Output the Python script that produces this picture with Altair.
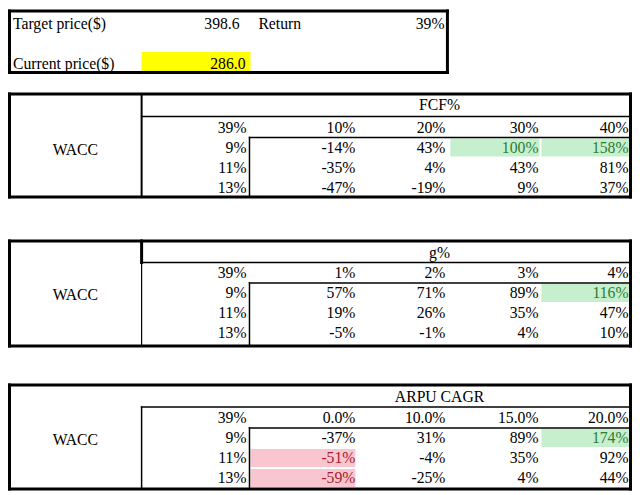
import altair as alt
import pandas as pd

# ---------------- data ----------------
top_labels = ["Target price($)", "Current price($)"]
target_price = 398.6
current_price = 286.0
return_label = "Return"
return_value = 39

row_header = "WACC"
corner_value = 39
wacc_rows = [9, 11, 13]

fcf_title = "FCF%"
fcf_cols = ["10%", "20%", "30%", "40%"]
fcf_vals = [[-14, 43, 100, 158],
            [-35, 4, 43, 81],
            [-47, -19, 9, 37]]

g_title = "g%"
g_cols = ["1%", "2%", "3%", "4%"]
g_vals = [[57, 71, 89, 116],
          [19, 26, 35, 47],
          [-5, -1, 4, 10]]

arpu_title = "ARPU CAGR"
arpu_cols = ["0.0%", "10.0%", "15.0%", "20.0%"]
arpu_vals = [[-37, 31, 89, 174],
             [-51, -4, 35, 92],
             [-59, -25, 4, 44]]

# ---------------- layout (reference pixel coordinates) ----------------
XL, XR, XDIV, XIN = 6.5, 634, 140, 249
COL_RIGHT = [246, 356, 447, 541, 632]
COL_EDGE = [249, 357, 451, 543, 634]
ROW_H = 20
FONT = "Liberation Serif"
FS = 15.7

tables = [
    dict(title=fcf_title, cols=fcf_cols, vals=fcf_vals, top=94, title_y=105,
         hline=116.5, inner=137.5, row0=128, bottom=197, div="full"),
    dict(title=g_title, cols=g_cols, vals=g_vals, top=241, title_y=253,
         hline=262.5, inner=283, row0=273, bottom=346, div="thickhead"),
    dict(title=arpu_title, cols=arpu_cols, vals=arpu_vals, top=385, title_y=397,
         hline=407, inner=428, row0=418, bottom=489, div="below"),
]

rules, rects, texts = [], [], []


def box(x1, y1, x2, y2, sw):
    rules.extend([
        dict(x=x1, x2=x2, y=y1, y2=y1, sw=sw),
        dict(x=x1, x2=x2, y=y2, y2=y2, sw=sw),
        dict(x=x1, x2=x1, y=y1, y2=y2, sw=sw),
        dict(x=x2, x2=x2, y=y1, y2=y2, sw=sw),
    ])


def txt(x, y, s, align, color="#000000"):
    texts.append(dict(x=x, y=y, t=s, align=align, c=color))


# top box
box(XL, 11, 449, 72.5, 3)
rects.append(dict(x=140, x2=250, y=52, y2=71, c="#FFFF00"))
txt(10, 24, top_labels[0], "left")
txt(239, 24, f"{target_price:.1f}", "right")
txt(258, 24, return_label, "left")
txt(446, 24, f"{return_value}%", "right")
txt(10, 64, top_labels[1], "left")
txt(245, 64, f"{current_price:.1f}", "right")

GOOD_FILL, GOOD_TXT = "#C6EFCE", "#2E7D32"
BAD_FILL, BAD_TXT = "#F9C6CF", "#A3202E"

for tb in tables:
    top, bot = tb["top"], tb["bottom"]
    box(XL, top, XR, bot, 3)
    if tb["div"] == "full":
        rules.append(dict(x=XDIV, x2=XDIV, y=top, y2=bot, sw=2))
        rules.append(dict(x=XDIV, x2=XR, y=tb["hline"], y2=tb["hline"], sw=1.5))
    elif tb["div"] == "thickhead":
        rules.append(dict(x=XDIV, x2=XDIV, y=top, y2=tb["hline"], sw=3))
        rules.append(dict(x=XDIV, x2=XDIV, y=tb["hline"], y2=bot, sw=1.2))
        rules.append(dict(x=XDIV, x2=XR, y=tb["hline"], y2=tb["hline"], sw=1.5))
    else:
        rules.append(dict(x=XDIV, x2=XDIV, y=tb["hline"], y2=bot, sw=1.5))
        rules.append(dict(x=XDIV, x2=XR, y=tb["hline"], y2=tb["hline"], sw=1.5))
    # inner box (data area)
    rules.append(dict(x=XIN, x2=XR, y=tb["inner"], y2=tb["inner"], sw=1.5))
    rules.append(dict(x=XIN, x2=XIN, y=tb["inner"], y2=bot, sw=1.5))

    txt(441, tb["title_y"], tb["title"], "center")
    txt(73, tb["inner"] + 12, row_header, "center")
    txt(COL_RIGHT[0], tb["row0"], f"{corner_value}%", "right")
    for j, c in enumerate(tb["cols"]):
        txt(COL_RIGHT[j + 1], tb["row0"], c, "right")
    for i, (w, rowv) in enumerate(zip(wacc_rows, tb["vals"])):
        y = tb["row0"] + ROW_H * (i + 1)
        txt(COL_RIGHT[0], y, f"{w}%", "right")
        for j, v in enumerate(rowv):
            color = "#000000"
            if v >= 100 or v <= -50:
                fill, color = (GOOD_FILL, GOOD_TXT) if v >= 100 else (BAD_FILL, BAD_TXT)
                y1 = tb["inner"] + ROW_H * i + 1
                rects.append(dict(x=COL_EDGE[j] + 1, x2=COL_EDGE[j + 1] - 1,
                                  y=y1, y2=y1 + ROW_H - 2, c=fill))
            txt(COL_RIGHT[j + 1], y, f"{v}%", "right", color)

W, H = 624, 487
xs = alt.Scale(domain=[5, 635.5], nice=False, zero=False)
ys = alt.Scale(domain=[8, 8 + H], nice=False, zero=False, reverse=True)

rect_df = pd.DataFrame(rects)
rule_df = pd.DataFrame(rules)
text_df = pd.DataFrame(texts)

rect_layer = alt.Chart(rect_df).mark_rect().encode(
    x=alt.X("x:Q", scale=xs, axis=None), x2="x2:Q",
    y=alt.Y("y:Q", scale=ys, axis=None), y2="y2:Q",
    color=alt.Color("c:N", scale=None),
)

rule_layer = alt.Chart(rule_df).mark_rule(color="#000000", strokeCap="square").encode(
    x=alt.X("x:Q", scale=xs, axis=None), x2="x2:Q",
    y=alt.Y("y:Q", scale=ys, axis=None), y2="y2:Q",
    strokeWidth=alt.StrokeWidth("sw:Q", scale=None),
)

text_layers = []
for al in ["left", "right", "center"]:
    text_layers.append(
        alt.Chart(text_df[text_df["align"] == al]).mark_text(
            align=al, baseline="middle", font=FONT, fontSize=FS
        ).encode(
            x=alt.X("x:Q", scale=xs, axis=None),
            y=alt.Y("y:Q", scale=ys, axis=None),
            text="t:N",
            color=alt.Color("c:N", scale=None),
        )
    )

chart = alt.layer(rect_layer, rule_layer, *text_layers).properties(
    width=W, height=H, padding=0, autosize=alt.AutoSizeParams(type="none"),
    background="#FFFFFF",
).configure_view(stroke=None)

chart.save("out.html", embed_options={"renderer": "svg", "actions": False})
